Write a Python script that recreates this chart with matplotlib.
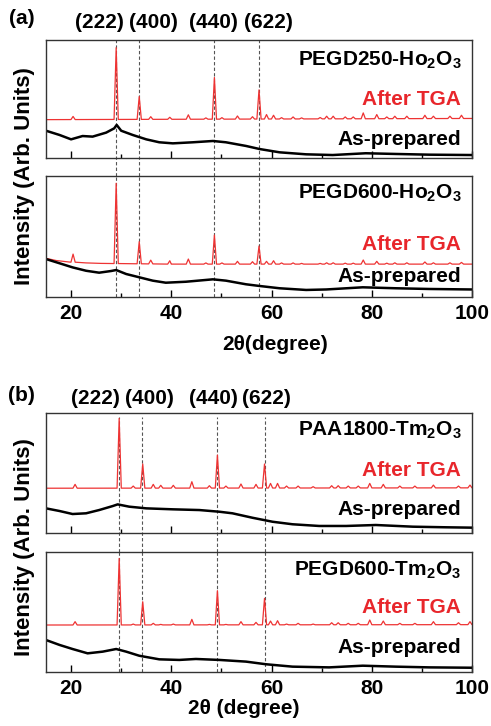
import numpy as np
import matplotlib
matplotlib.use('Agg')
import matplotlib.pyplot as plt
from matplotlib.ticker import MultipleLocator

plt.rcParams['font.family'] = ['Liberation Sans', 'DejaVu Sans']
plt.rcParams['font.weight'] = 'bold'
plt.rcParams['mathtext.fontset'] = 'custom'
plt.rcParams['mathtext.rm'] = 'Liberation Sans:bold'
plt.rcParams['mathtext.it'] = 'Liberation Sans:bold'
plt.rcParams['mathtext.bf'] = 'Liberation Sans:bold'

# ---- data (normalised intensity, 0..1 per box) ----
hkl = ['(222)', '(400)', '(440)', '(622)']
ho_lines = [29.0, 33.6, 48.6, 57.5]
tm_lines = [29.6, 34.2, 49.2, 58.6]

ho_peaks = [20.4, 29.0, 33.6, 35.9, 39.7, 43.4, 46.9, 48.6, 50.1, 53.2, 56.2, 57.5,
            59.0, 60.4, 62.0, 64.3, 66.0, 69.7, 71.0, 72.3, 74.7, 76.3, 78.3, 81.0,
            83.0, 84.6, 87.0, 90.6, 92.3, 95.6, 97.9]
tm_peaks = [20.8, 29.6, 32.4, 34.3, 36.4, 37.9, 40.4, 44.1, 47.6, 49.2, 50.9, 53.9,
            56.9, 58.6, 59.8, 61.2, 63.0, 65.3, 68.3, 72.0, 73.3, 75.3, 77.3, 79.6,
            82.3, 85.6, 88.6, 92.3, 97.3, 99.6]

# PEGD250-Ho2O3
a1_tga_base_x = [15, 100]
a1_tga_base_y = [0.325, 0.335]
a1_tga_h = [0.352, 0.935, 0.521, 0.350, 0.345, 0.366, 0.340, 0.682, 0.342, 0.356, 0.350,
            0.577, 0.368, 0.362, 0.342, 0.348, 0.340, 0.343, 0.354, 0.354, 0.348, 0.348,
            0.382, 0.368, 0.348, 0.354, 0.354, 0.362, 0.354, 0.354, 0.362]
a1_raw_x = [15, 17.7, 20.0, 22.3, 24.3, 27.0, 28.6, 29.1, 30.0, 32.3, 35.0, 37.6, 40.3,
            44.3, 48.3, 50.9, 54.9, 57.6, 61.6, 66.9, 72.2, 78.8, 84.8, 91.5, 100]
a1_raw_y = [0.231, 0.195, 0.158, 0.186, 0.181, 0.215, 0.251, 0.280, 0.231, 0.195, 0.158,
            0.133, 0.124, 0.133, 0.144, 0.133, 0.102, 0.076, 0.048, 0.031, 0.025, 0.040,
            0.034, 0.028, 0.025]

# PEGD600-Ho2O3
a2_tga_base_x = [15, 17, 19.5, 23, 26, 40, 100]
a2_tga_base_y = [0.318, 0.300, 0.288, 0.280, 0.276, 0.270, 0.270]
a2_tga_h = [0.353, 0.940, 0.456, 0.303, 0.298, 0.312, 0.280, 0.511, 0.280, 0.293, 0.290,
            0.420, 0.293, 0.298, 0.280, 0.280, 0.276, 0.276, 0.281, 0.281, 0.278, 0.278,
            0.304, 0.293, 0.278, 0.281, 0.281, 0.288, 0.281, 0.281, 0.284]
a2_raw_x = [15, 17.7, 20.3, 23.0, 25.6, 28.0, 29.0, 31.0, 33.6, 36.3, 38.9, 42.9, 48.3,
            50.9, 54.9, 57.6, 61.6, 66.9, 70.9, 78.2, 84.8, 91.5, 100]
a2_raw_y = [0.312, 0.277, 0.243, 0.215, 0.199, 0.213, 0.221, 0.188, 0.161, 0.133, 0.116,
            0.124, 0.144, 0.133, 0.103, 0.089, 0.070, 0.056, 0.060, 0.078, 0.070, 0.064, 0.060]

# PAA1800-Tm2O3
b1_tga_base_x = [15, 100]
b1_tga_base_y = [0.374, 0.377]
b1_tga_h = [0.406, 0.953, 0.392, 0.575, 0.406, 0.398, 0.398, 0.428, 0.395, 0.649, 0.392,
            0.409, 0.406, 0.575, 0.414, 0.414, 0.392, 0.392, 0.387, 0.395, 0.395, 0.392,
            0.392, 0.414, 0.406, 0.392, 0.392, 0.400, 0.392, 0.400]
b1_raw_x = [15, 17.7, 20.3, 23.0, 25.6, 28.3, 29.3, 31.6, 35.0, 40.3, 45.6, 49.6, 52.2,
            56.2, 60.2, 64.2, 69.5, 74.9, 80.8, 88.2, 94.8, 100]
b1_raw_y = [0.207, 0.185, 0.160, 0.166, 0.193, 0.226, 0.240, 0.221, 0.207, 0.199, 0.193,
            0.179, 0.166, 0.129, 0.096, 0.075, 0.061, 0.061, 0.069, 0.055, 0.050, 0.047]

# PEGD600-Tm2O3
b2_tga_base_x = [15, 100]
b2_tga_base_y = [0.389, 0.392]
b2_tga_h = [0.417, 0.944, 0.397, 0.583, 0.403, 0.394, 0.397, 0.436, 0.394, 0.675, 0.394,
            0.417, 0.411, 0.611, 0.422, 0.425, 0.397, 0.403, 0.397, 0.408, 0.408, 0.403,
            0.403, 0.431, 0.422, 0.403, 0.403, 0.417, 0.408, 0.417]
b2_raw_x = [15, 17.7, 20.3, 23.3, 26.3, 29.0, 31.0, 33.6, 37.6, 41.6, 44.9, 49.6, 54.9,
            58.9, 64.2, 71.5, 78.2, 84.8, 91.5, 100]
b2_raw_y = [0.264, 0.223, 0.189, 0.153, 0.167, 0.189, 0.167, 0.133, 0.103, 0.098, 0.106,
            0.098, 0.084, 0.062, 0.042, 0.036, 0.050, 0.042, 0.036, 0.033]

red = '#E8262B'
line_red = '#EE3333'


def tga_curve(bx, by, px, ph, hw=0.42):
    xs = list(bx); ys = list(by)
    for p, h in zip(px, ph):
        foot = np.interp(p, bx, by)
        xs += [p - hw, p, p + hw]
        ys += [foot, h, foot]
    order = np.argsort(xs, kind='stable')
    return np.array(xs)[order], np.array(ys)[order]


fig = plt.figure(figsize=(4.91, 7.26), dpi=100)

boxes = [
    [0.0937, 0.7824, 0.8676, 0.1625],
    [0.0937, 0.5913, 0.8676, 0.1663],
    [0.0937, 0.2654, 0.8676, 0.1661],
    [0.0937, 0.0748, 0.8676, 0.1653],
]
names = ['PEGD250-Ho$_2$O$_3$', 'PEGD600-Ho$_2$O$_3$',
         'PAA1800-Tm$_2$O$_3$', 'PEGD600-Tm$_2$O$_3$']
tga = [(a1_tga_base_x, a1_tga_base_y, ho_peaks, a1_tga_h),
       (a2_tga_base_x, a2_tga_base_y, ho_peaks, a2_tga_h),
       (b1_tga_base_x, b1_tga_base_y, tm_peaks, b1_tga_h),
       (b2_tga_base_x, b2_tga_base_y, tm_peaks, b2_tga_h)]
raw = [(a1_raw_x, a1_raw_y), (a2_raw_x, a2_raw_y),
       (b1_raw_x, b1_raw_y), (b2_raw_x, b2_raw_y)]
# label heights (axes fraction): name, After TGA, As-prepared
label_y = [(0.826, 0.496, 0.157), (0.853, 0.435, 0.166),
           (0.850, 0.522, 0.200), (0.843, 0.539, 0.202)]

axs = []
for i in range(4):
    ax = fig.add_axes(boxes[i])
    tx, ty = tga_curve(*tga[i])
    ax.plot(tx, ty, color=line_red, lw=0.9)
    ax.plot(raw[i][0], raw[i][1], color='black', lw=1.8)
    ax.set_xlim(15, 100)
    ax.set_ylim(0, 1)
    ax.set_yticks([])
    ax.xaxis.set_major_locator(MultipleLocator(20))
    ax.xaxis.set_minor_locator(MultipleLocator(10))
    ax.tick_params(axis='x', which='major', direction='in', length=5, width=1,
                   labelsize=15, pad=5, top=False)
    ax.tick_params(axis='x', which='minor', direction='in', length=3, width=1, top=False)
    for s in ax.spines.values():
        s.set_linewidth(1.0)
        s.set_color('#333333')
    if i in (0, 2):
        ax.tick_params(axis='x', labelbottom=False)
    ly = label_y[i]
    ax.text(0.975, ly[0], names[i], transform=ax.transAxes, ha='right', va='center',
            fontsize=15, fontweight='bold')
    ax.text(0.975, ly[1], 'After TGA', transform=ax.transAxes, ha='right', va='center',
            fontsize=15, fontweight='bold', color=red)
    ax.text(0.975, ly[2], 'As-prepared', transform=ax.transAxes, ha='right', va='center',
            fontsize=15, fontweight='bold')
    axs.append(ax)

# reflection guide lines
for top, bot, lines, ymax in [(axs[0], axs[1], ho_lines, 1.0), (axs[2], axs[3], tm_lines, 0.965)]:
    for x in lines:
        top.axvline(x, ymin=-0.155, ymax=ymax, color='#555555', lw=0.8, ls=(0, (3, 2)),
                    clip_on=False, zorder=0)
        bot.axvline(x, ymin=0, ymax=1, color='#555555', lw=0.8, ls=(0, (3, 2)), zorder=0)

# hkl labels above the top boxes
hkl_a = [25.6, 36.5, 48.5, 59.3]
hkl_b = [24.8, 35.7, 48.5, 58.9]
for ax, xs, yy in [(axs[0], hkl_a, 1.15), (axs[2], hkl_b, 1.12)]:
    for x, lab in zip(xs, hkl):
        ax.text(x, yy, lab, transform=ax.get_xaxis_transform(), ha='center', va='center',
                fontsize=15, fontweight='bold')

fig.text(0.044, 1 - 18 / 726, '(a)', ha='center', va='center', fontsize=15, fontweight='bold')
fig.text(0.044, 1 - 396 / 726, '(b)', ha='center', va='center', fontsize=15, fontweight='bold')

fig.text(0.049, 1 - 176 / 726, 'Intensity (Arb. Units)', rotation=90, ha='center',
         va='center', fontsize=16, fontweight='bold')
fig.text(0.049, 1 - 547 / 726, 'Intensity (Arb. Units)', rotation=90, ha='center',
         va='center', fontsize=16, fontweight='bold')

fig.text(275.5 / 491, 1 - 344 / 726, '2\u03b8(degree)', ha='center', va='center',
         fontsize=15, fontweight='bold')
fig.text(243.8 / 491, 1 - 708 / 726, '2\u03b8 (degree)', ha='center', va='center',
         fontsize=15, fontweight='bold')

fig.savefig('out.png', dpi=100)
